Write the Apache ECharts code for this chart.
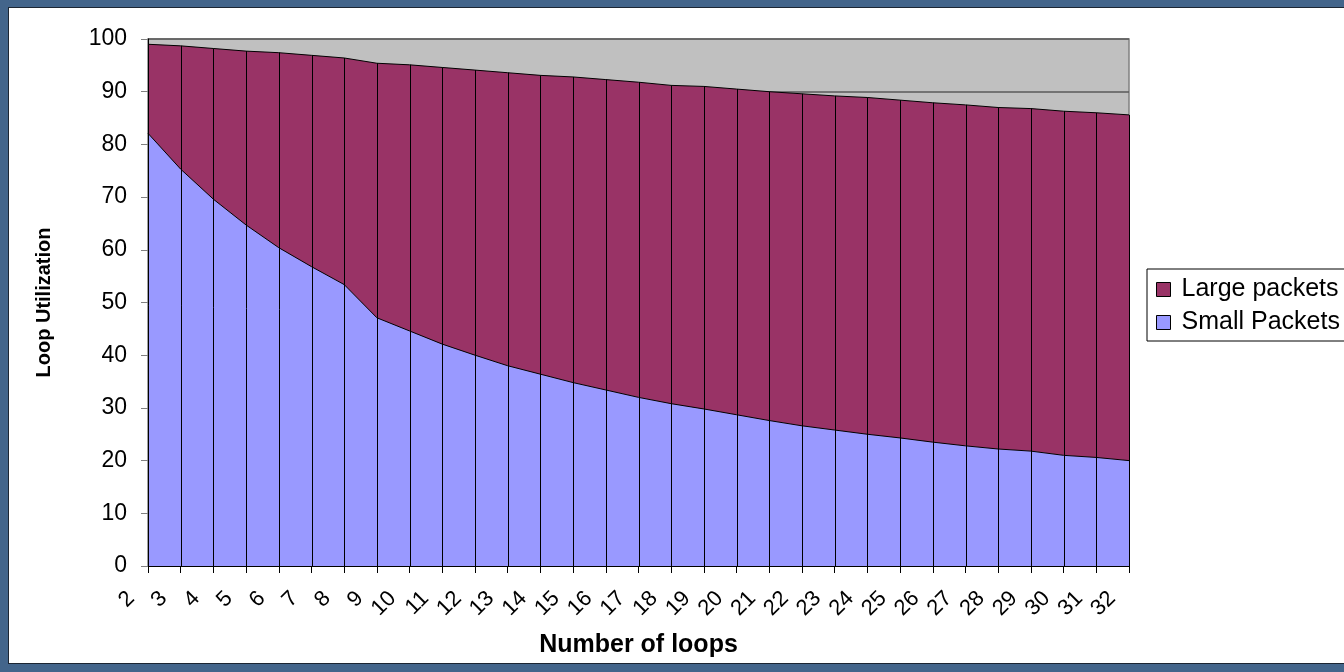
<!DOCTYPE html>
<html>
<head>
<meta charset="utf-8">
<title>Loop Utilization</title>
<script src="https://cdn.jsdelivr.net/npm/echarts@6/dist/echarts.min.js"></script>
<style>
  html, body { margin: 0; padding: 0; width: 1344px; height: 672px; overflow: hidden; background: #43658b; }
  #panel { position: absolute; left: 8px; top: 7px; width: 1340px; height: 657px; background: #ffffff; border: 1px solid #1c2633; box-sizing: border-box; }
  #chart { position: absolute; left: 0; top: 0; width: 1344px; height: 672px; }
</style>
</head>
<body>
<div id="panel"></div>
<div id="chart"></div>
<script>
// Number of loops on the ring
const loops = ['2','3','4','5','6','7','8','9','10','11','12','13','14','15','16','17',
               '18','19','20','21','22','23','24','25','26','27','28','29','30','31','32'];

// Utilization share carried by small packets (bottom band)
const smallPackets = [82.1, 75.3, 69.6, 64.7, 60.4, 56.8, 53.4, 47.1, 44.6, 42.1, 40.0,
                      38.0, 36.4, 34.8, 33.4, 32.0, 30.8, 29.8, 28.7, 27.6, 26.6, 25.8,
                      25.0, 24.3, 23.5, 22.8, 22.2, 21.8, 21.0, 20.6, 20.0];

// Utilization share carried by large packets (stacked on top)
const largePackets = [16.9, 23.4, 28.6, 33.0, 37.0, 40.1, 43.0, 48.3, 50.5, 52.5, 54.1,
                      55.6, 56.7, 58.0, 58.9, 59.8, 60.4, 61.2, 61.8, 62.4, 63.0, 63.4,
                      63.9, 64.1, 64.4, 64.7, 64.8, 65.0, 65.3, 65.4, 65.6];

const seriesNames = ['Large packets', 'Small Packets'];
const LARGE_COLOR = '#993366';
const SMALL_COLOR = '#9999ff';
const FONT = '"Liberation Sans", Arial, sans-serif';

const chart = echarts.init(document.getElementById('chart'), null, { renderer: 'canvas' });

// drop lines from each stacked total down to the category axis
const dropData = loops.map((c, i) => [i, smallPackets[i] + largePackets[i]]);

const option = {
  backgroundColor: 'transparent',
  animation: false,
  grid: {
    left: 148, right: 215, top: 39, bottom: 106,
    show: true,
    backgroundColor: '#c0c0c0',
    borderColor: '#808080',
    borderWidth: 1.5
  },
  legend: {
    orient: 'vertical',
    left: 1147,
    top: 269,
    padding: [8, 10, 6, 9],
    itemGap: 8,
    itemWidth: 14,
    itemHeight: 14,
    icon: 'rect',
    borderColor: '#000',
    borderWidth: 1,
    backgroundColor: '#ffffff',
    itemStyle: { borderColor: '#000', borderWidth: 1 },
    textStyle: { fontFamily: FONT, fontSize: 25, color: '#000', lineHeight: 22, padding: [0, 0, 0, 6] },
    data: [
      { name: seriesNames[0], itemStyle: { color: LARGE_COLOR, borderColor: '#000', borderWidth: 1 } },
      { name: seriesNames[1], itemStyle: { color: SMALL_COLOR, borderColor: '#000', borderWidth: 1 } }
    ]
  },
  xAxis: {
    type: 'category',
    data: loops,
    boundaryGap: false,
    name: 'Number of loops',
    nameLocation: 'middle',
    nameGap: 67,
    nameTextStyle: { fontFamily: FONT, fontSize: 25, fontWeight: 'bold', color: '#000' },
    axisLine: { show: true, lineStyle: { color: '#000', width: 1 } },
    axisTick: { show: true, length: 7, interval: 0, lineStyle: { color: '#000' } },
    axisLabel: {
      interval: 0,
      rotate: 45,
      margin: 12,
      padding: [0, 24, 0, 0],
      fontFamily: FONT,
      fontSize: 22,
      color: '#000'
    },
    splitLine: { show: false }
  },
  yAxis: {
    type: 'value',
    min: 0,
    max: 100,
    interval: 10,
    name: 'Loop Utilization',
    nameLocation: 'middle',
    nameGap: 94,
    nameRotate: 90,
    nameTextStyle: { fontFamily: FONT, fontSize: 20, fontWeight: 'bold', color: '#000' },
    axisLine: { show: true, lineStyle: { color: '#000', width: 1 } },
    axisTick: { show: true, length: 7, lineStyle: { color: '#808080' } },
    axisLabel: { margin: 21, fontFamily: FONT, fontSize: 23, color: '#000' },
    splitLine: { show: true, lineStyle: { color: '#5a5a5a', width: 1.5 } }
  },
  series: [
    {
      name: seriesNames[1],
      type: 'line',
      stack: 'util',
      data: smallPackets,
      symbol: 'none',
      smooth: false,
      lineStyle: { color: '#000', width: 1 },
      itemStyle: { color: SMALL_COLOR },
      areaStyle: { color: SMALL_COLOR, opacity: 1 },
      z: 2
    },
    {
      name: seriesNames[0],
      type: 'line',
      stack: 'util',
      data: largePackets,
      symbol: 'none',
      smooth: false,
      lineStyle: { color: '#000', width: 1 },
      itemStyle: { color: LARGE_COLOR },
      areaStyle: { color: LARGE_COLOR, opacity: 1 },
      z: 2
    },
    {
      name: 'drop',
      type: 'custom',
      data: dropData,
      encode: { x: 0, y: 1 },
      z: 3,
      silent: true,
      renderItem: function (params, api) {
        const base = api.coord([api.value(0), 0]);
        const top = api.coord([api.value(0), api.value(1)]);
        const x = Math.round(base[0]) + 0.5;
        return {
          type: 'line',
          shape: { x1: x, y1: base[1], x2: x, y2: top[1] },
          style: { stroke: '#000', lineWidth: 1 }
        };
      }
    }
  ]
};

chart.setOption(option);
</script>
</body>
</html>
